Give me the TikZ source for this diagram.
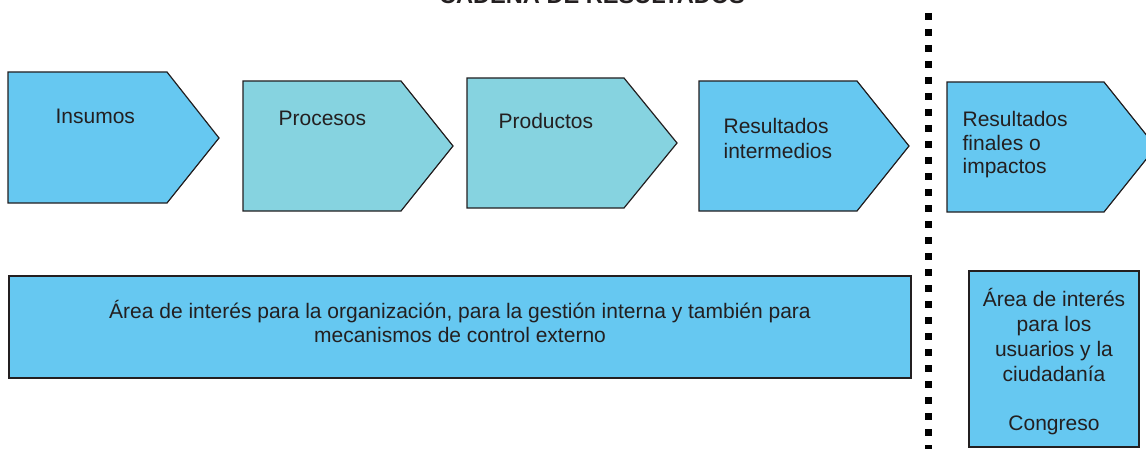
\documentclass[tikz,border=0pt]{standalone}
\usepackage{fontspec}
\setmainfont{Liberation Sans}
\usepackage{xcolor}
\usepackage{tikz}
\usetikzlibrary{positioning}
\usetikzlibrary{calc}
\definecolor{cielo}{HTML}{66C8F1}
\definecolor{turquesa}{HTML}{86D3E0}
\definecolor{tinta}{HTML}{231F20}

\begin{document}
\begin{tikzpicture}[x=0.5pt, y=-0.5pt, line width=0.6pt,
    caja/.style={draw=tinta, fill=cielo},
    cajaclara/.style={draw=tinta, fill=turquesa},
    texto/.style={anchor=base west, inner sep=0pt, text=tinta, align=left,
        font=\fontsize{10.5}{12.5}\selectfont},
    textocentro/.style={inner sep=0pt, text=tinta, align=center,
        font=\fontsize{10.5}{12.5}\selectfont}]
    \useasboundingbox (0,0) rectangle (1146,449);

        % titulo (cortado arriba)
        \node[anchor=base, inner sep=0pt, text=tinta,
            font=\fontsize{11.8}{14}\selectfont\bfseries] (titulo) at (592,4) {CADENA DE RESULTADOS};

        % cadena
        \draw[caja] (8,72) -- (167,72) -- (219,138) -- (167,203) -- (8,203) -- cycle;
        \draw[cajaclara] (243,81) -- (401,81) -- (453,146) -- (401,211) -- (243,211) -- cycle;
        \draw[cajaclara] (467,78) -- (624,78) -- (677,143) -- (624,208) -- (467,208) -- cycle;
        \draw[caja] (699,81) -- (857,81) -- (909,146) -- (857,211) -- (699,211) -- cycle;
        \draw[caja] (947,82) -- (1104,82) -- (1156,147) -- (1104,212) -- (947,212) -- cycle;

        % (base = ultima linea)
        \node[texto] (insumos) at (55,124) {Insumos};
        \node[texto] (procesos) at (278,126) {Procesos};
        \node[texto] (productos) at (498,129) {Productos};
        \node[texto, font=\fontsize{10.5}{13}\selectfont] (intermedios) at (723,159) {Resultados\\intermedios};
        \node[texto, font=\fontsize{10.5}{12}\selectfont] (finales) at (962,174) {Resultados\\finales o\\impactos};

        % areas de interes
        \draw[caja] (9,276) rectangle (911,378);
        \draw[caja] (969,271) rectangle (1139,447);
        \node[textocentro, anchor=base, font=\fontsize{10.5}{12}\selectfont] (areaorg) at (460,342)
            {Área de interés para la organización, para la gestión interna y también para\\mecanismos de control externo};
        \node[textocentro, anchor=base] (areausr) at (1054,430)
            {Área de interés\\para los\\usuarios y la\\ciudadanía\\[12pt]Congreso};

        % separacion
        \coordinate (sepa) at (928.5,13);
        \coordinate (sepb) at (928.5,452);
        \draw[line width=3.5pt, dash pattern=on 3.5pt off 4.5pt] (sepa) -- (sepb);
    \end{tikzpicture}
\end{document}
